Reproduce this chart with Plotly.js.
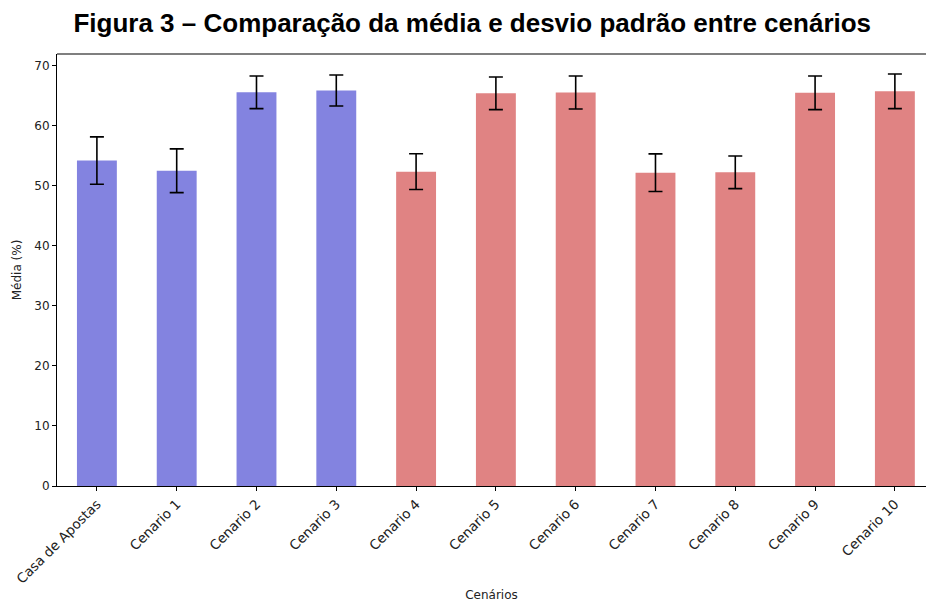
<!DOCTYPE html>
<html>
<head>
<meta charset="utf-8">
<script src="https://cdn.plot.ly/plotly-3.0.1.min.js"></script>
<style>html,body{margin:0;padding:0;background:#fff;}#chart{width:926px;height:602px;}</style>
</head>
<body>
<div id="chart"></div>
<script>
const categories = ["Casa de Apostas","Cenario 1","Cenario 2","Cenario 3","Cenario 4","Cenario 5","Cenario 6","Cenario 7","Cenario 8","Cenario 9","Cenario 10"];
const means = [54.2, 52.5, 65.56, 65.86, 52.35, 65.4, 65.53, 52.17, 52.24, 65.48, 65.72];
const stds  = [3.94, 3.64, 2.72, 2.58, 2.97, 2.72, 2.75, 3.13, 2.72, 2.8, 2.88];
const group = ["base","base","base","base","novo","novo","novo","novo","novo","novo","novo"];

const colors = {base: "#8383E0", novo: "#E08383"};

const traces = ["base","novo"].map(g => {
  const idx = group.map((v,i)=> v===g ? i : -1).filter(i=>i>=0);
  return {
    type: "bar",
    x: idx.map(i=>categories[i]),
    y: idx.map(i=>means[i]),
    width: 0.5,
    marker: {color: colors[g], line: {width: 0}},
    error_y: {type: "data", array: idx.map(i=>stds[i]), visible: true, color: "#000", thickness: 1.6, width: 7},
    showlegend: false,
    hoverinfo: "skip"
  };
});

const layout = {
  width: 926, height: 602,
  margin: {l: 57, r: 0, t: 54, b: 116},
  paper_bgcolor: "#fff", plot_bgcolor: "#fff",
  barmode: "overlay",
  font: {family: "DejaVu Sans", color: "#000"},
  title: {
    text: "<b>Figura 3 – Comparação da média e desvio padrão entre cenários</b>",
    font: {family: "Liberation Sans, Arial", size: 26, color: "#000"},
    x: 0.51, xanchor: "center", xref: "container", y: 0.962, yanchor: "middle", yref: "container"
  },
  xaxis: {
    type: "category",
    categoryorder: "array", categoryarray: categories,
    range: [-0.5, 10.39],
    showline: true, linecolor: "#000", linewidth: 1, mirror: false,
    ticks: "outside", ticklen: 4, tickwidth: 1, tickcolor: "#000",
    tickangle: -45,
    tickfont: {family: "DejaVu Sans", size: 13.5, color: "#222"},
    showgrid: false, zeroline: false,
    title: {text: "Cenários", font: {family: "DejaVu Sans", size: 12, color: "#222"}, standoff: 6}
  },
  yaxis: {
    range: [0, 71.94],
    dtick: 10,
    showline: true, linecolor: "#000", linewidth: 1,
    ticks: "outside", ticklen: 4, tickwidth: 1, tickcolor: "#000",
    tickfont: {family: "DejaVu Sans", size: 12, color: "#222"},
    showgrid: false, zeroline: false,
    title: {text: "Média (%)", font: {family: "DejaVu Sans", size: 12, color: "#222"}, standoff: 10}
  },
  shapes: [{type: "line", xref: "paper", yref: "paper", x0: 0, x1: 1, y0: 1, y1: 1, line: {color: "#555", width: 1.3}}]
};

Plotly.newPlot("chart", traces, layout, {displayModeBar: false, staticPlot: true});
</script>
</body>
</html>
